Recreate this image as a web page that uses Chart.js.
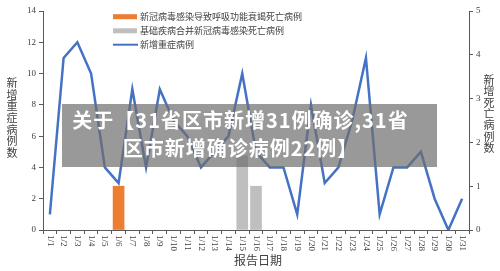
<!DOCTYPE html>
<html>
<head>
<meta charset="utf-8">
<script src="https://cdn.jsdelivr.net/npm/chart.js@4.4.1/dist/chart.umd.min.js"></script>
<style>
  html, body { margin: 0; padding: 0; background: #fff; }
  #wrap { position: relative; width: 500px; height: 271px; overflow: hidden; }
  canvas { display: block; }
  #banner {
    position: absolute; left: 62px; top: 104px; width: 375px; height: 63px;
    background: rgba(110,110,110,0.7); color: #fff;
    font-family: "Noto Sans CJK SC", sans-serif; font-weight: bold;
    font-size: 20px; line-height: 28px; letter-spacing: 1px; text-align: center;
    padding: 2px 18px 0 0; box-sizing: border-box; white-space: nowrap;
  }
</style>
</head>
<body>
<div id="wrap">
  <canvas id="c" width="500" height="271"></canvas>
  <div id="banner">关于【31省区市新增31例确诊,31省<br>区市新增确诊病例22例】</div>
</div>
<script>
// Report dates, January
const dates = ['1/1','1/2','1/3','1/4','1/5','1/6','1/7','1/8','1/9','1/10','1/11','1/12','1/13','1/14','1/15','1/16',
               '1/17','1/18','1/19','1/20','1/21','1/22','1/23','1/24','1/25','1/26','1/27','1/28','1/29','1/30','1/31'];

// New severe cases (left axis)
const severeCases = [1,11,12,10,4,3,9,4,9,7,6,4,5,6,10,5,4,4,1,8,3,4,7,11,1,4,4,5,2,0,2];

// Deaths from respiratory failure caused by COVID infection (right axis)
const respiratoryDeaths = [null,null,null,null,null,1,null,null,null,null,null,null,null,null,null,null,
                           null,null,null,null,null,null,null,null,null,null,null,null,null,null,null];

// Deaths with underlying disease combined with COVID infection (right axis)
const comorbidDeaths = [null,null,null,null,null,null,null,null,null,null,null,null,null,null,1.7,1,
                        null,null,null,null,null,null,null,null,null,null,null,null,null,null,null];

const leftTicks = [0,2,4,6,8,10,12,14];
const rightTicks = [0,1,2,3,4,5];

const seriesNames = ['新冠病毒感染导致呼吸功能衰竭死亡病例', '基础疾病合并新冠病毒感染死亡病例', '新增重症病例'];
const leftTitle = '新增重症病例数';
const rightTitle = '新增死亡病例数';
const xTitle = '报告日期';

const ORANGE = '#ED7D31', GRAY = '#BFBFBF', BLUE = '#4472C4';
const AXIS = '#595959', TEXT = '#404040';
const CJK = '"Noto Sans CJK SC", sans-serif';
const SERIF = '"Liberation Serif", serif';

const decorations = {
  id: 'decorations',
  afterDraw(chart) {
    const ctx = chart.ctx;
    const xs = chart.scales.x;
    ctx.save();

    // rotated date labels, reading top to bottom
    ctx.fillStyle = TEXT;
    ctx.font = '9px ' + SERIF;
    ctx.textAlign = 'left';
    ctx.textBaseline = 'middle';
    dates.forEach((d, i) => {
      const x = xs.getPixelForValue(i);
      ctx.save();
      ctx.translate(x, xs.top + 5);
      ctx.rotate(Math.PI / 2);
      ctx.fillText(d, 0, 0);
      ctx.restore();
    });

    // axis titles, stacked characters
    ctx.font = '11px ' + CJK;
    ctx.textAlign = 'center';
    [...leftTitle].forEach((ch, i) => ctx.fillText(ch, 12, 83 + i * 11.6));
    [...rightTitle].forEach((ch, i) => ctx.fillText(ch, 489, 80 + i * 11.3));
    ctx.font = '12px ' + CJK;
    ctx.fillText(xTitle, 258, 260);

    // legend
    const rows = [16.7, 30.8, 44.7];
    ctx.fillStyle = ORANGE;
    ctx.fillRect(113, rows[0] - 2.5, 24, 5);
    ctx.fillStyle = GRAY;
    ctx.fillRect(113, rows[1] - 2.5, 24, 5);
    ctx.strokeStyle = BLUE;
    ctx.lineWidth = 2;
    ctx.beginPath();
    ctx.moveTo(113, rows[2]);
    ctx.lineTo(138, rows[2]);
    ctx.stroke();
    ctx.fillStyle = TEXT;
    ctx.font = '9px ' + CJK;
    ctx.textAlign = 'left';
    seriesNames.forEach((n, i) => ctx.fillText(n, 140, rows[i]));

    ctx.restore();
  }
};

new Chart(document.getElementById('c'), {
  type: 'bar',
  data: {
    labels: dates,
    datasets: [
      { type: 'line', label: seriesNames[2], data: severeCases, yAxisID: 'y',
        borderColor: BLUE, borderWidth: 2.5, pointRadius: 0, tension: 0, fill: false, order: 0 },
      { label: seriesNames[0], data: respiratoryDeaths, yAxisID: 'y1',
        backgroundColor: ORANGE, barThickness: 11, grouped: false, order: 1 },
      { label: seriesNames[1], data: comorbidDeaths, yAxisID: 'y1',
        backgroundColor: GRAY, barThickness: 11, grouped: false, order: 1 }
    ]
  },
  options: {
    responsive: false,
    animation: false,
    layout: { padding: { top: 11, left: 0, right: 0, bottom: 0 } },
    plugins: { legend: { display: false }, title: { display: false }, tooltip: { enabled: false } },
    scales: {
      x: {
        offset: true,
        grid: { display: true, offset: true, drawOnChartArea: false, drawTicks: true, tickLength: 4, color: AXIS },
        border: { display: true, color: AXIS, width: 1 },
        ticks: { display: false },
        afterFit(s) { s.height = 41; }
      },
      y: {
        position: 'left', min: 0, max: 14,
        afterBuildTicks(s) { s.ticks = leftTicks.map(v => ({ value: v })); },
        ticks: { font: { family: SERIF, size: 9 }, color: TEXT, padding: 3 },
        grid: { display: true, drawOnChartArea: false, tickLength: 4, color: AXIS },
        border: { display: true, color: AXIS, width: 1 },
        afterFit(s) { s.width = 43; }
      },
      y1: {
        position: 'right', min: 0, max: 5,
        afterBuildTicks(s) { s.ticks = rightTicks.map(v => ({ value: v })); },
        ticks: { font: { family: SERIF, size: 9 }, color: TEXT, padding: 3 },
        grid: { display: true, drawOnChartArea: false, tickLength: 4, color: AXIS },
        border: { display: true, color: AXIS, width: 1 },
        afterFit(s) { s.width = 31; }
      }
    }
  },
  plugins: [decorations]
});
</script>
</body>
</html>
